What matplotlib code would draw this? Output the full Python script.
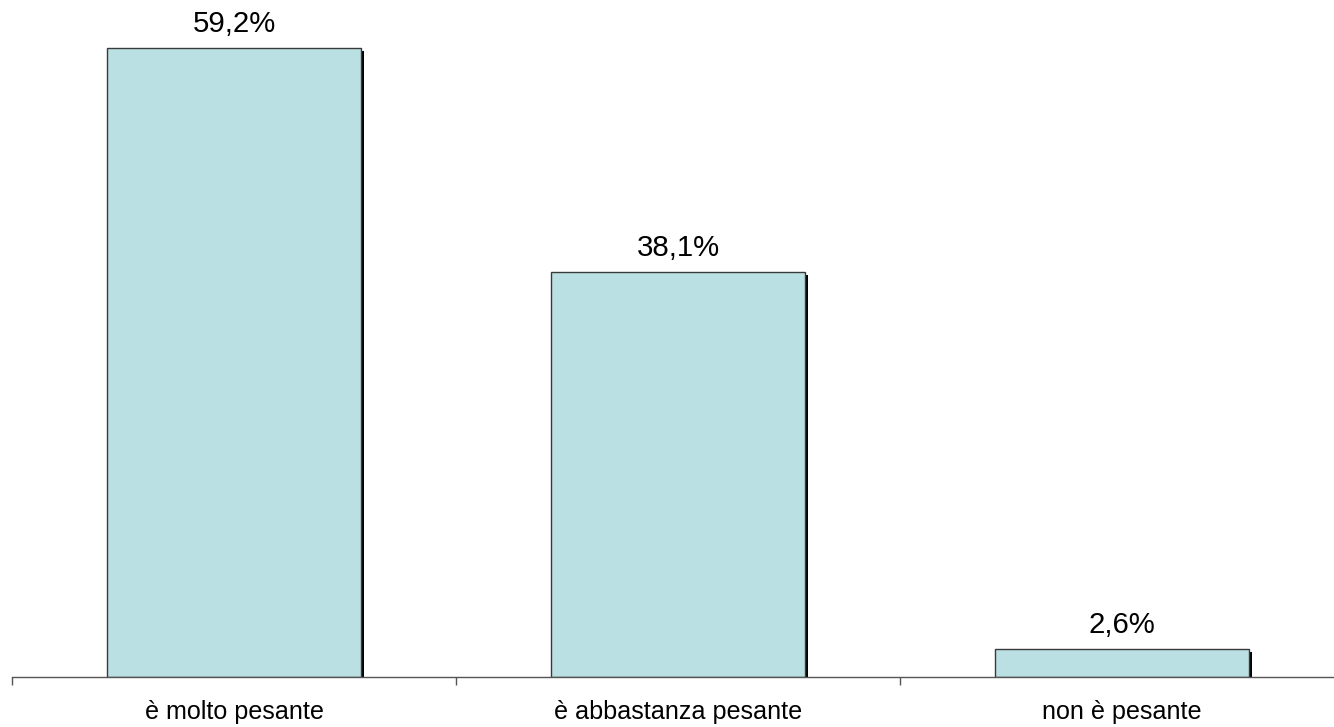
import matplotlib
matplotlib.use("Agg")
import matplotlib.pyplot as plt
import matplotlib.patheffects as pe

categories = ["è molto pesante", "è abbastanza pesante", "non è pesante"]
values = [59.2, 38.1, 2.6]
value_labels = ["59,2%", "38,1%", "2,6%"]

plt.rcParams['font.family'] = ['Liberation Sans', 'DejaVu Sans']

W, H = 1334, 727
fig = plt.figure(figsize=(W / 100, H / 100), dpi=100)
fig.patch.set_facecolor("white")

# axes spans category boundaries from x=12 to x=1344 px; baseline at y=677 px
left, right = 12, 1344
base, top = 677, 677 - 60 * 10.625
ax = fig.add_axes([left / W, 1 - base / H, (right - left) / W, (base - top) / H])

x = list(range(len(categories)))
bars = ax.bar(x, values, width=0.572, color="#BBE0E3", edgecolor="#3a3a3a",
              linewidth=1.0, zorder=3)
for b in bars:
    b.set_path_effects([pe.SimplePatchShadow(offset=(2.4, -2.2), shadow_rgbFace="black", alpha=1.0),
                        pe.Normal()])

for xi, v, lab in zip(x, values, value_labels):
    ax.annotate(lab, (xi, v), xytext=(0, 7.5), textcoords="offset points",
                ha="center", va="bottom", fontsize=21.2, color="black",
                annotation_clip=False)

ax.set_xlim(-0.5, 2.5)
ax.set_ylim(0, 60)
ax.set_xticks([-0.5, 0.5, 1.5, 2.5])
ax.set_xticklabels([])
ax.set_xticks(x, minor=True)
ax.set_xticklabels(categories, minor=True, fontsize=18.1)
ax.tick_params(axis="x", which="major", direction="out", length=6, width=1, color="#555555")
ax.tick_params(axis="x", which="minor", length=0, pad=16.5)
ax.set_yticks([])
for s in ["top", "right", "left"]:
    ax.spines[s].set_visible(False)
ax.spines["bottom"].set_color("#555555")
ax.spines["bottom"].set_linewidth(1.0)
ax.spines["bottom"].set_zorder(4)
ax.patch.set_visible(False)

fig.savefig("out.png", dpi=100)
